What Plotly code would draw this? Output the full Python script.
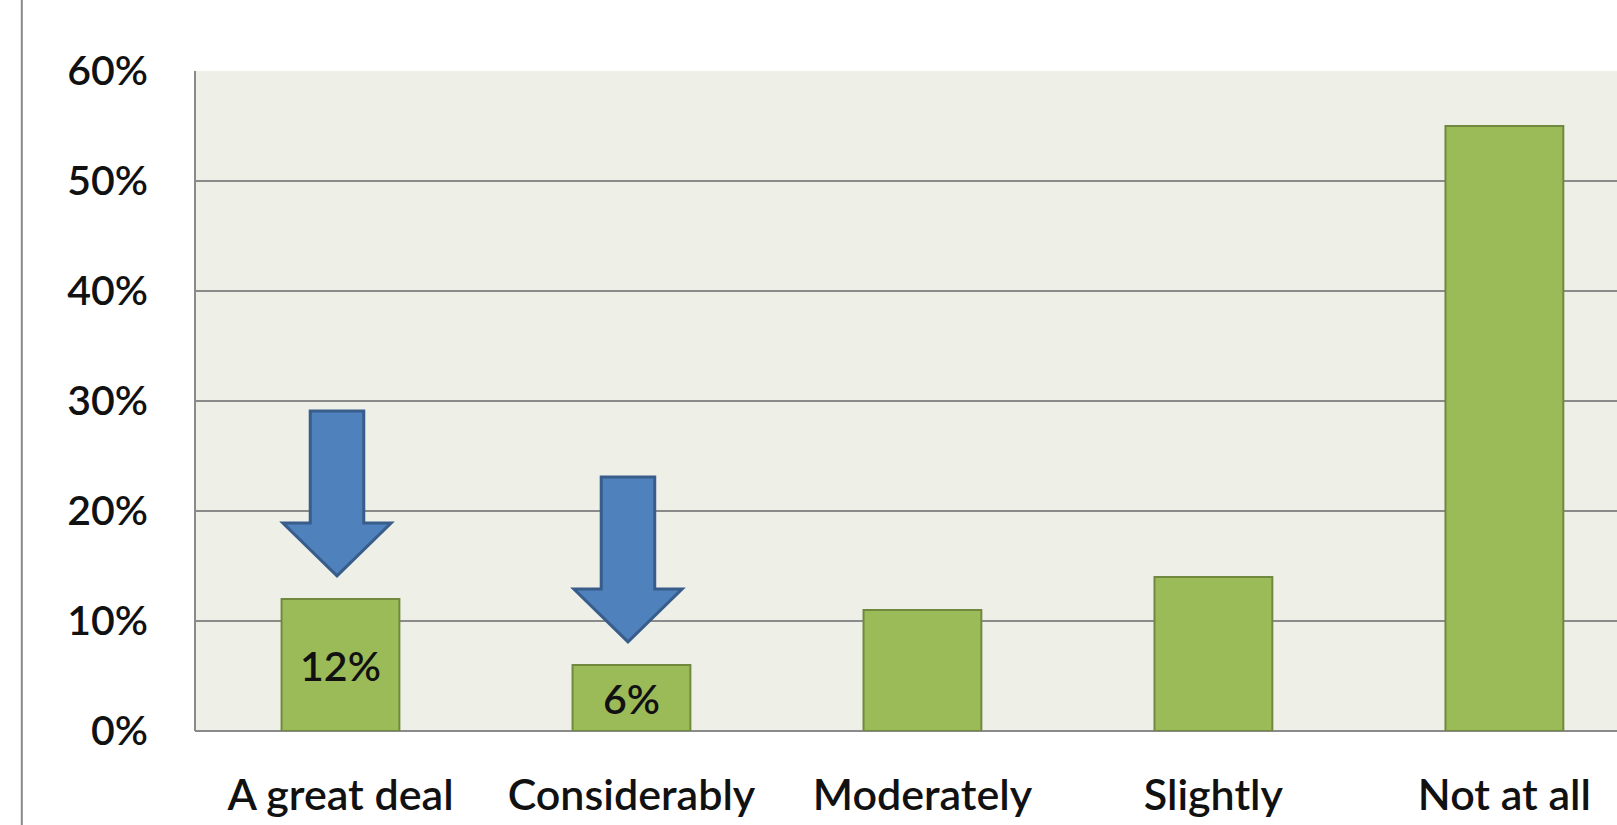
import plotly.graph_objects as go

categories = ["A great deal", "Considerably", "Moderately", "Slightly", "Not at all"]
values = [12, 6, 11, 14, 55]
labelled = ["12%", "6%", "", "", ""]
highlighted = ["A great deal", "Considerably"]
y_ticks = [0, 10, 20, 30, 40, 50, 60]
y_tick_labels = ["0%", "10%", "20%", "30%", "40%", "50%", "60%"]

FONT = "Lato"
BAR_FILL = "#9BBB59"
BAR_EDGE = "#71893F"
ARROW_FILL = "#4F81BD"
ARROW_EDGE = "#385D8A"
GRID = "#8A8A8A"

xs = list(range(len(categories)))

fig = go.Figure()
fig.add_trace(go.Bar(
    x=xs, y=values,
    marker=dict(color=BAR_FILL, line=dict(color=BAR_EDGE, width=2)),
    text=labelled, textposition="inside", insidetextanchor="middle",
    textfont=dict(family=FONT, size=41, color="#111111", weight=600),
    textangle=0, constraintext="none",
    width=0.405, hoverinfo="skip",
))

# down arrows above highlighted bars
GAP, LEN, HEAD = 2.1, 15.0, 4.8
SHAFT_HW, HEAD_HW = 0.092, 0.186
shapes = []
for cat in highlighted:
    i = categories.index(cat)
    v = values[i]
    cx = i - 0.012
    tip = v + GAP
    ht = tip + HEAD
    top = tip + LEN
    path = (f"M {cx - SHAFT_HW} {top} L {cx + SHAFT_HW} {top} L {cx + SHAFT_HW} {ht} "
            f"L {cx + HEAD_HW} {ht} L {cx} {tip} L {cx - HEAD_HW} {ht} L {cx - SHAFT_HW} {ht} Z")
    shapes.append(dict(type="path", xref="x", yref="y", path=path,
                       fillcolor=ARROW_FILL, line=dict(color=ARROW_EDGE, width=3), layer="above"))

# left frame line of the chart area
shapes.append(dict(type="line", xref="paper", yref="paper", x0=-0.1218, x1=-0.1218, y0=-0.2, y1=1.2,
                   line=dict(color="#8A8A8A", width=2)))
# left edge of plot area
shapes.append(dict(type="line", xref="paper", yref="paper", x0=0, x1=0, y0=0, y1=1,
                   line=dict(color=GRID, width=2), layer="below"))

fig.update_layout(
    width=1617, height=825,
    margin=dict(l=195, r=0, t=71, b=94, autoexpand=False),
    paper_bgcolor="white",
    plot_bgcolor="#EEF0E8",
    showlegend=False,
    shapes=shapes,
    font=dict(family=FONT, color="#111111"),
    xaxis=dict(
        range=[-0.5, 4.387], tickvals=xs, ticktext=categories,
        showgrid=False, zeroline=False, showline=False, ticks="",
        tickfont=dict(family=FONT, size=43, color="#111111", weight=600),
        ticklabelstandoff=35, automargin=False, fixedrange=True,
    ),
    yaxis=dict(
        range=[0, 60], tickvals=y_ticks, ticktext=y_tick_labels,
        showgrid=True, gridcolor=GRID, gridwidth=2,
        zeroline=True, zerolinecolor=GRID, zerolinewidth=2,
        showline=False, ticks="",
        tickfont=dict(family=FONT, size=41, color="#111111", weight=600),
        ticklabelstandoff=46, automargin=False, fixedrange=True,
    ),
)

fig.write_html("out.html", config={"displayModeBar": False})
